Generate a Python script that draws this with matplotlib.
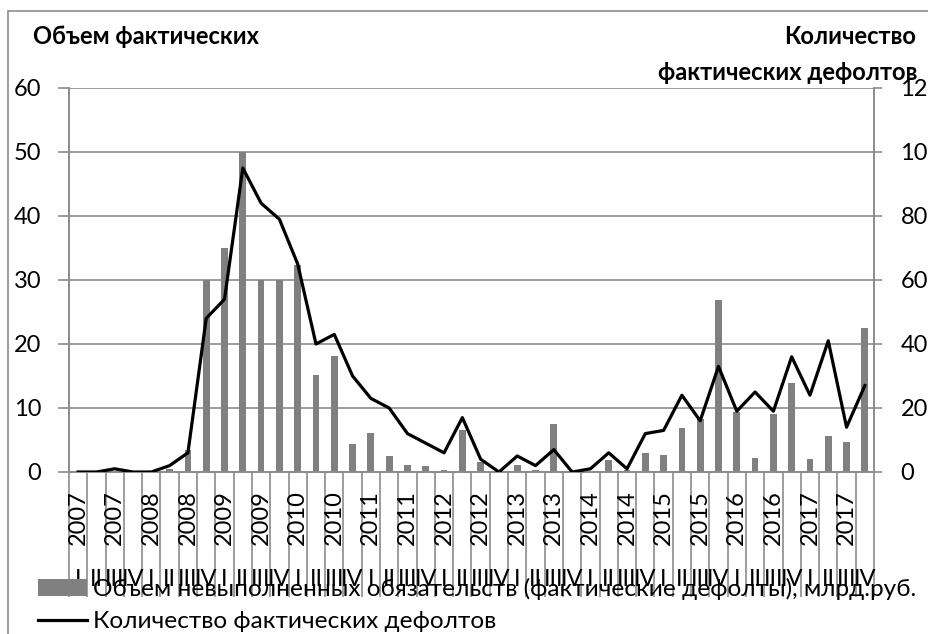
import matplotlib
matplotlib.use('Agg')
import matplotlib.pyplot as plt
import matplotlib.transforms as mtransforms
from matplotlib.patches import Rectangle
import numpy as np

plt.rcParams['font.family'] = ['Lato', 'DejaVu Sans']

# quarterly data 2007 Q1 .. 2017 Q4
years = ['2007', '2008', '2009', '2010', '2011', '2012',
         '2013', '2014', '2015', '2016', '2017']
quarters = ['I', 'II', 'III', 'IV']
volume = [0, 0, 0, 0, 0, 0.4, 3.4, 30, 35, 50, 30, 30, 32.4, 15.1, 18.1, 4.3,
          6.1, 2.5, 1.1, 1.0, 0.3, 6.6, 1.6, 0, 1.1, 0.3, 7.5, 0, 0, 1.8, 0.3,
          3.0, 2.6, 6.9, 8.3, 26.8, 9.4, 2.2, 9.1, 13.9, 2.0, 5.6, 4.7, 22.5]
defaults = [0, 0, 1, 0, 0, 2, 6, 48, 54, 95, 84, 79, 65, 40, 43, 30, 23, 20,
            12, 9, 6, 17, 4, 0, 5, 2, 7, 0, 1, 6, 1, 12, 13, 24, 16, 33, 19,
            25, 19, 36, 24, 41, 14, 27]

label_volume = 'Объем невыполненных обязательств (фактические дефолты), млрд.руб.'
label_count = 'Количество фактических дефолтов'

grid_col = '#8c8c8c'
W, H = 929, 634

fig = plt.figure(figsize=(W / 100, H / 100), dpi=100)
ax = fig.add_axes([69 / W, 1 - 472 / H, (874 - 69) / W, (472 - 88) / H])
ax2 = ax.twinx()

x = np.arange(len(volume))
bars = ax.bar(x, volume, width=0.37, color='#808080', zorder=2)
line, = ax2.plot(x, defaults, color='black', lw=2.3, zorder=3)

ax.set_xlim(-0.5, len(volume) - 0.5)
ax.set_ylim(0, 60)
ax.set_yticks(range(0, 61, 10))
ax2.set_ylim(0, 120)
ax2.set_yticks(range(0, 121, 20))
ax.grid(axis='y', color=grid_col, lw=1.2, zorder=0)
ax.set_axisbelow(True)

for a in (ax, ax2):
    for s in a.spines.values():
        s.set_color(grid_col)
        s.set_linewidth(1.2)
    a.spines['top'].set_visible(False)

ax.tick_params(axis='y', length=8, color=grid_col, width=1.2, pad=12, labelsize=17)
ax2.tick_params(axis='y', length=6, color=grid_col, width=1.2, pad=13, labelsize=17)

# category separators running down through the label area
ax.set_xticks([])
ax.set_xticks(np.arange(-0.5, len(volume), 1), minor=True)
ax.tick_params(axis='x', which='minor', length=90, color=grid_col, width=1.2,
               labelbottom=False)

# two-level category labels: year (every other quarter) and quarter
trans = mtransforms.blended_transform_factory(ax.transData, fig.transFigure)
for i in range(len(volume)):
    if i % 2 == 0:
        ax.text(i, 1 - 490 / H, years[i // 4], transform=trans, ha='center',
                va='top', rotation=90, fontsize=17, clip_on=False)
    ax.text(i, 1 - 579 / H, quarters[i % 4], transform=trans, ha='center',
            va='center', fontsize=17, clip_on=False)

# axis headers
fig.text(33 / W, 1 - 37 / H, 'Объем фактических', fontsize=17,
         fontweight='bold', ha='left', va='center')
fig.text(916 / W, 1 - 37 / H, 'Количество', fontsize=17,
         fontweight='bold', ha='right', va='center')
fig.text(917 / W, 1 - 72 / H, 'фактических дефолтов', fontsize=17,
         fontweight='bold', ha='right', va='center')

fig.legend([bars, line], [label_volume, label_count], loc='upper left',
           bbox_to_anchor=(38 / W, 1 - 578 / H), frameon=False, fontsize=17.6,
           handlelength=2.0, handletextpad=0.25, labelspacing=0.45,
           borderaxespad=0, borderpad=0)

fig.add_artist(Rectangle((8 / W, -0.05), 1.0, 1.05 - 11 / H,
                         transform=fig.transFigure, fill=False,
                         edgecolor=grid_col, lw=1.2))

fig.savefig('out.png', dpi=100)
